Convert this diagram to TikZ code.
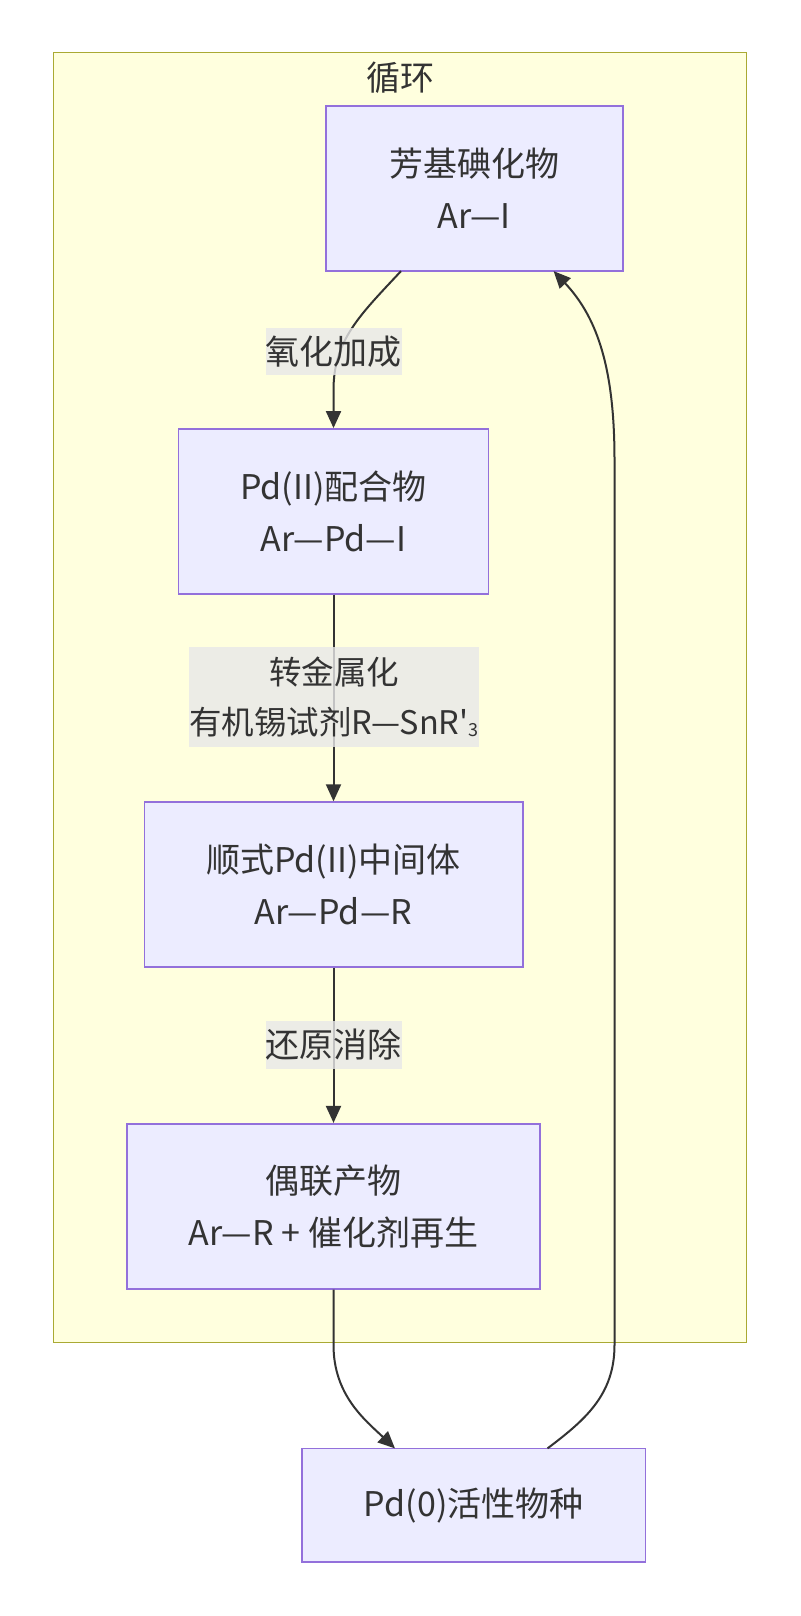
\documentclass[tikz,border=0pt]{standalone}
\usepackage{fontspec}
\setmainfont{Noto Sans CJK SC}
\usetikzlibrary{arrows.meta}
\definecolor{clfill}{HTML}{FFFFDE}
\definecolor{clline}{HTML}{AAAA33}
\definecolor{ndfill}{HTML}{ECECFF}
\definecolor{ndline}{HTML}{9370DB}
\definecolor{txt}{HTML}{333333}
\definecolor{lblbg}{HTML}{E8E8E8}
\tikzset{
  nbox/.style={draw=ndline, fill=ndfill, line width=1.6pt, align=center, text=txt,
    font=\fontsize{34}{52}\selectfont, inner sep=0pt},
  elabel/.style={fill=lblbg, fill opacity=0.8, text opacity=1, text=txt, align=center,
    font=\fontsize{34}{52}\selectfont, inner sep=0pt},
  conn/.style={draw=txt, line width=2pt},
  tip/.style={-{Triangle[length=17pt,width=15pt]}}
}
\begin{document}
\begin{tikzpicture}[x=1pt,y=-1pt]
\useasboundingbox[fill=white] (0,0) rectangle (800,1616);
\node[draw=clline, fill=clfill, line width=1.6pt, minimum width=692.8pt, minimum height=1289.7pt, inner sep=0pt] (cl) at (400,697.45) {};
\node[text=txt, font=\fontsize{34}{40}\selectfont] (title) at (400,77.3) {循环};
\node[nbox, minimum width=296.9pt, minimum height=164.9pt] (b1) at (474.25,188.65) {芳基碘化物\\Ar—I};
\node[nbox, minimum width=310.3pt, minimum height=164.9pt] (b2) at (333.5,511.35) {Pd(II)配合物\\Ar—Pd—I};
\node[nbox, minimum width=378.4pt, minimum height=164.9pt] (b3) at (333.5,884.55) {顺式Pd(II)中间体\\Ar—Pd—R};
\node[nbox, minimum width=413.4pt, minimum height=165pt] (b4) at (333.5,1206.2) {偶联产物\\Ar—R + 催化剂再生};
\node[nbox, minimum width=343.3pt, minimum height=113.4pt] (b5) at (473.75,1505.1) {Pd(0)活性物种};
% connectors
\coordinate (s1) at (401,271.1);
\coordinate (t5) at (553.6,271.1);
\coordinate (e4) at (395,1448.4);
\coordinate (s5) at (547.5,1448.4);
\draw[conn,tip] (s1) .. controls (360,315) and (333.5,340) .. (333.5,390) -- (b2.north);
\draw[conn,tip] (b2.south) -- (b3.north);
\draw[conn,tip] (b3.south) -- (b4.north);
\draw[conn,tip] (b4.south) -- (333.5,1345) .. controls (333.5,1395) and (365,1420) .. (e4);
\draw[conn,tip] (s5) .. controls (585,1420) and (614.5,1395) .. (614.5,1345) -- (614.5,460) .. controls (614.5,370) and (598,318) .. (t5);
% labels
\node[elabel, minimum width=135pt, minimum height=47pt] (l1) at (333.5,351.5) {氧化加成};
\node[elabel, minimum width=290.7pt, minimum height=100pt, font=\fontsize{32.5}{50}\selectfont] (l2) at (334,697.4) {转金属化\\有机锡试剂R—SnR\textquotesingle\raisebox{-2pt}{\fontsize{18}{18}\selectfont 3}};
\node[elabel, minimum width=135pt, minimum height=48pt] (l3) at (333.5,1044.8) {还原消除};
\end{tikzpicture}
\end{document}
